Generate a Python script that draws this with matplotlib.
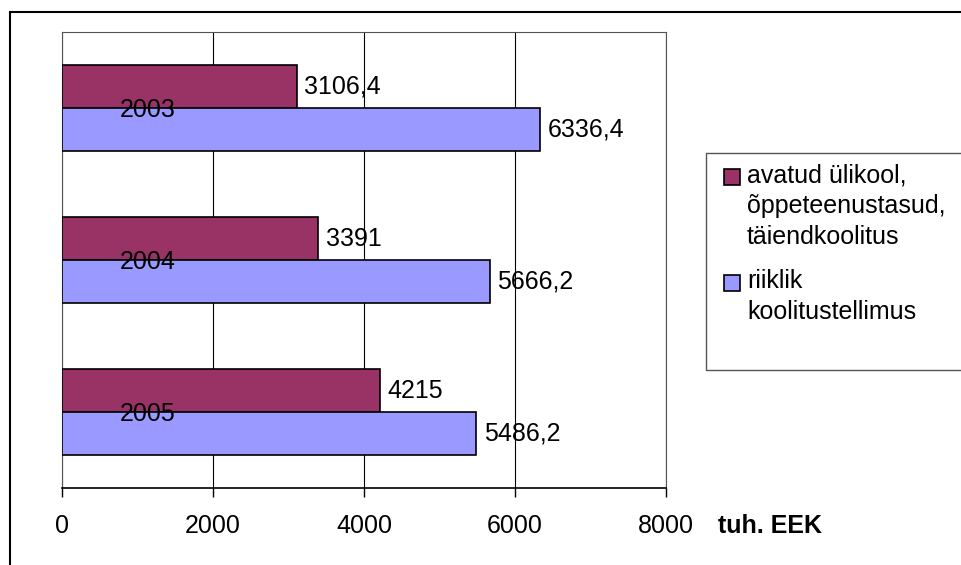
import matplotlib.pyplot as plt
from matplotlib.patches import Rectangle
import numpy as np

plt.rcParams['font.family'] = ['Liberation Sans', 'DejaVu Sans']

years = ['2003', '2004', '2005']
avatud = [3106.4, 3391, 4215]
riiklik = [6336.4, 5666.2, 5486.2]
avatud_lbl = ['3106,4', '3391', '4215']
riiklik_lbl = ['6336,4', '5666,2', '5486,2']
ticks = [0, 2000, 4000, 6000, 8000]
legend_labels = [['avatud ülikool,', 'õppeteenustasud,', 'täiendkoolitus'],
                 ['riiklik', 'koolitustellimus']]

c_avatud = '#993366'
c_riiklik = '#9999FF'
FS = 18

fig = plt.figure(figsize=(9.62, 5.65), dpi=100)
W, H = 962, 565

def fx(px):
    return px / W

def fy(py):
    return 1 - py / H

# outer chart border
fig.patches.append(Rectangle((fx(10), -0.1), 1.0, fy(12) + 0.1,
                             transform=fig.transFigure, fill=False,
                             edgecolor='black', linewidth=1.5, clip_on=False))

ax = fig.add_axes([fx(62), fy(488), fx(666 - 62), (488 - 32) / H])

y = np.arange(len(years))
h = 0.28
ax.barh(y - h / 2, avatud, height=h, color=c_avatud, edgecolor='black', linewidth=1.2, zorder=3)
ax.barh(y + h / 2, riiklik, height=h, color=c_riiklik, edgecolor='black', linewidth=1.2, zorder=3)

for i in range(len(years)):
    ax.text(avatud[i] + 100, y[i] - h / 2, avatud_lbl[i], va='center', ha='left', fontsize=FS, zorder=4)
    ax.text(riiklik[i] + 100, y[i] + h / 2, riiklik_lbl[i], va='center', ha='left', fontsize=FS, zorder=4)
    ax.text(1135, y[i] + 0.01, years[i], va='center', ha='center', fontsize=FS, zorder=4)

ax.set_xlim(0, 8000)
ax.set_ylim(2.5, -0.5)
ax.set_xticks(ticks)
ax.set_xticklabels([str(t) for t in ticks], fontsize=FS)
ax.tick_params(axis='x', direction='out', length=6.5, width=1, pad=12)
ax.set_yticks([])
ax.grid(axis='x', color='black', linewidth=0.8, zorder=0)
for s in ['top', 'right', 'left']:
    ax.spines[s].set_color('#555555')
    ax.spines[s].set_linewidth(0.8)
ax.spines['bottom'].set_linewidth(1.2)

# unit label next to last tick label
fig.text(fx(718), fy(526), 'tuh. EEK', fontsize=FS, fontweight='bold', ha='left', va='center')

# legend box drawn by hand so the markers sit on the first text line
fig.patches.append(Rectangle((fx(706), fy(370)), 0.5, (370 - 153) / H,
                             transform=fig.transFigure, facecolor='white',
                             edgecolor='#555555', linewidth=1, clip_on=False))
line_step = 31
for col, lines, base in [(c_avatud, legend_labels[0], 182), (c_riiklik, legend_labels[1], 288)]:
    fig.patches.append(Rectangle((fx(724), fy(base + 3)), fx(16), 16 / H,
                                 transform=fig.transFigure, facecolor=col,
                                 edgecolor='black', linewidth=1.2))
    for k, line in enumerate(lines):
        fig.text(fx(747), fy(base + k * line_step), line, fontsize=FS, ha='left', va='baseline')

fig.savefig('out.png', dpi=100)
